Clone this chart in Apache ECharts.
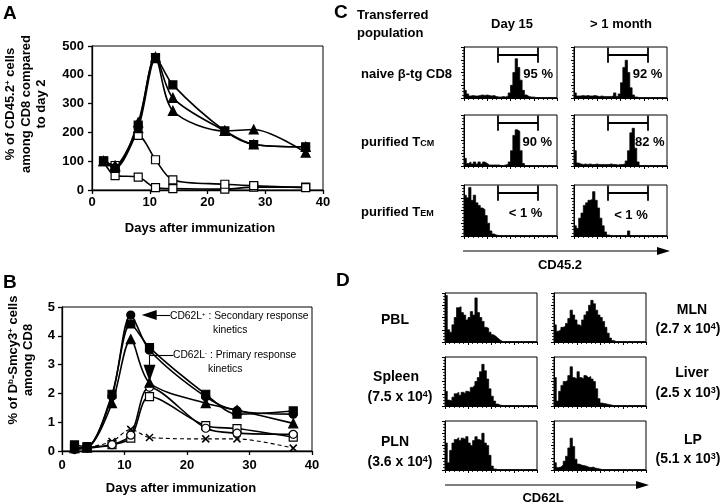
<!DOCTYPE html>
<html><head><meta charset="utf-8">
<script src="https://cdn.jsdelivr.net/npm/echarts@6/dist/echarts.min.js"></script>
<style>html,body{margin:0;padding:0;background:#fff}#c{width:720px;height:503px}</style>
</head><body><div id="c"></div>
<script>
// ---------- Panel A data ----------
const daysA = [2, 4, 8, 11, 14, 23, 28, 37];
const aFilledSquare = [100, 75, 225, 460, 365, 205, 158, 150];
const aFilledTriA   = [100, 80, 235, 462, 320, 205, 158, 150];
const aFilledTriB   = [100, 85, 215, 458, 275, 205, 210, 130];
const aOpenSquareA  = [100, 85, 190, 105, 35, 20, 15, 8];
const aOpenSquareB  = [100, 50, 45, 8, 5, 3, 10, 10];
// ---------- Panel B data ----------
const daysB = [2, 4, 8, 11, 14, 23, 28, 37];
const bFilledCircle = [0.10, 0.12, 1.90, 4.72, 3.50, 1.88, 1.40, 1.28];
const bFilledSquare = [0.21, 0.15, 1.97, 4.41, 3.59, 1.97, 1.28, 1.39];
const bFilledTri    = [0.10, 0.12, 1.66, 3.88, 2.37, 1.66, 1.42, 0.96];
const bOpenCircle   = [0.05, 0.10, 0.22, 0.55, 2.21, 0.79, 0.62, 0.58];
const bOpenSquare   = [0.10, 0.12, 0.22, 0.45, 1.89, 0.88, 0.78, 0.48];
const bCross        = [0.05, 0.12, 0.33, 0.75, 0.47, 0.42, 0.42, 0.10];
// ---------- Panel C histograms (CD45.2, 40 bins, % of max height) ----------
const cNaiveD15 = [15,8,4,5,4,4,5,6,5,6,5,4,5,3,2,2,3,2,4,10,25,50,77,60,35,15,6,3,2,2,1,1,1,1,1,1,1,1,1,1];
const cNaiveM1  = [10,4,4,5,4,5,4,4,5,4,3,4,3,3,3,3,4,10,3,8,30,60,74,50,20,6,2,1,1,1,1,1,1,1,1,1,1,1,1,1];
const cTcmD15   = [15,5,8,4,8,4,8,4,8,5,2,2,2,2,2,1,1,2,3,8,30,60,71,68,30,5,1,1,1,1,1,1,1,1,1,1,1,1,1,1];
const cTcmM1    = [30,6,4,3,4,3,4,3,3,4,3,3,3,3,3,4,3,3,2,3,3,4,10,30,65,74,35,8,1,1,1,1,1,1,1,1,1,1,1,1];
const cTemD15   = [80,75,95,70,80,65,60,55,52,40,25,10,4,2,1,1,1,1,1,1,1,1,1,1,1,1,1,1,1,1,1,1,1,1,1,1,1,1,1,1];
const cTemM1    = [20,15,35,45,60,65,70,72,87,70,55,35,20,8,2,1,1,1,1,1,1,1,1,10,1,1,1,1,1,1,1,1,1,1,1,1,1,1,1,1];
const cPercent  = ['95 %', '92 %', '90 %', '82 %', '< 1 %', '< 1 %'];
const cGate     = [14.6, 31.8];
// ---------- Panel D histograms (CD62L, 40 bins) ----------
const dPBL    = [95,25,20,35,50,70,72,60,55,45,50,62,55,90,60,50,42,30,28,20,15,12,8,4,1,1,1,1,1,1,1,1,1,1,1,1,1,1,1,1];
const dSpleen = [30,12,10,18,25,28,22,28,25,30,28,38,42,50,58,70,85,72,55,35,20,10,4,2,1,1,1,1,1,1,1,1,1,1,1,1,1,1,1,1];
const dPLN    = [55,15,40,55,62,66,60,65,62,68,55,50,60,68,62,60,75,55,50,30,8,2,1,1,1,1,1,1,1,1,1,1,1,1,1,1,1,1,1,1];
const dMLN    = [35,22,25,30,32,38,48,65,55,45,35,32,45,55,62,75,85,78,65,55,50,42,30,18,8,3,1,1,1,1,1,1,1,1,1,1,1,1,1,1];
const dLiver  = [58,10,30,42,50,52,62,80,58,55,70,58,55,62,58,60,55,50,35,15,6,5,4,3,2,1,1,1,1,1,1,1,1,1,1,1,1,1,1,1];
const dLP     = [15,5,6,10,18,28,45,65,48,22,12,10,9,8,6,5,6,4,3,2,1,1,1,1,1,1,1,1,1,1,1,1,1,1,1,1,1,1,1,1];

const FF = "'Liberation Sans', Arial, Helvetica, sans-serif";
const grids = [], xAxes = [], yAxes = [], series = [];
function addGrid(g, xa, ya) {
  grids.push(Object.assign({show: true, borderColor: '#000', borderWidth: 1, backgroundColor: 'rgba(0,0,0,0)', containLabel: false, outerBoundsMode: 'none'}, g));
  const gi = grids.length - 1;
  xAxes.push(Object.assign({gridIndex: gi}, xa));
  yAxes.push(Object.assign({gridIndex: gi}, ya));
  return gi;
}
function mainAxis(min, max, interval, margin) {
  return {type: 'value', min, max, interval,
    axisLine: {show: true, onZero: false, lineStyle: {color: '#000', width: 1.3}},
    axisTick: {show: true, length: 4, lineStyle: {color: '#000', width: 1.3}},
    axisLabel: {show: true, margin, color: '#000', fontFamily: FF, fontWeight: 'bold', fontSize: 13},
    splitLine: {show: false}};
}
function histAxis(max, interval, minor) {
  return {type: 'value', min: 0, max, interval,
    axisLine: {show: true, onZero: false, lineStyle: {color: '#000', width: 1}},
    axisTick: {show: true, length: 3, lineStyle: {color: '#000', width: 1}},
    minorTick: {show: true, splitNumber: minor, length: 2, lineStyle: {color: '#000', width: 0.8}},
    axisLabel: {show: false}, splitLine: {show: false}, minorSplitLine: {show: false}};
}
function kin(gi, days, vals, sym, filled, extra) {
  return Object.assign({type: 'line', xAxisIndex: gi, yAxisIndex: gi,
    data: days.map((d, i) => [d, vals[i]]), smooth: 0.3, symbol: sym, symbolSize: 8,
    lineStyle: {color: '#000', width: 1.6},
    itemStyle: {color: filled ? '#000' : '#fff', borderColor: '#000', borderWidth: 1.2},
    z: 3, silent: true}, extra || {});
}

// Panel A
const gA = addGrid({left: 92, top: 46, width: 231, height: 144}, mainAxis(0, 40, 10, 6), mainAxis(0, 500, 100, 8));
series.push(kin(gA, daysA, aOpenSquareB, 'rect', false));
series.push(kin(gA, daysA, aOpenSquareA, 'rect', false));
series.push(kin(gA, daysA, aFilledTriB, 'triangle', true, {symbolSize: 9}));
series.push(kin(gA, daysA, aFilledTriA, 'triangle', true, {symbolSize: 9}));
series.push(kin(gA, daysA, aFilledSquare, 'rect', true));

// Panel B
const gB = addGrid({left: 62, top: 307, width: 250, height: 144}, mainAxis(0, 40, 10, 8), mainAxis(0, 5, 1, 7));
series.push(kin(gB, daysB, bCross, 'path://M0 0L10 10M10 0L0 10', true,
  {lineStyle: {color: '#000', width: 1.1, type: [4, 3]}, itemStyle: {color: '#000', borderColor: '#000', borderWidth: 1.5}, symbolSize: 7}));
series.push(kin(gB, daysB, bOpenSquare, 'rect', false));
series.push(kin(gB, daysB, bOpenCircle, 'circle', false));
series.push(kin(gB, daysB, bFilledTri, 'triangle', true, {symbolSize: 9}));
series.push(kin(gB, daysB, bFilledSquare, 'rect', true));
series.push(kin(gB, daysB, bFilledCircle, 'circle', true, {
  markLine: {silent: true, animation: false, symbol: 'none', label: {show: false},
    lineStyle: {color: '#000', width: 1.1, type: 'solid'},
    data: [
      [{coord: [17.3, 4.72], symbol: 'none'}, {coord: [13.95, 4.72], symbol: 'triangle', symbolSize: [10, 15]}],
      [{coord: [17.8, 3.33], symbol: 'none'}, {coord: [14.0, 3.33], symbol: 'none'}],
      [{coord: [14.0, 3.33], symbol: 'none'}, {coord: [14.0, 2.70], symbol: 'triangle', symbolSize: [12, 17]}]
    ]}
}));

// Histograms
function hist(gi, arr, extra) {
  const data = arr.map((v, i) => [i, v]);
  data.push([arr.length, arr[arr.length - 1]]);
  series.push(Object.assign({type: 'line', xAxisIndex: gi, yAxisIndex: gi, data, step: 'end', symbol: 'none',
    lineStyle: {color: '#000', width: 0.7}, areaStyle: {color: '#000', opacity: 1}, silent: true}, extra || {}));
}
const cCols = [464, 574], cRows = [47, 115, 185];
const cHists = [cNaiveD15, cNaiveM1, cTcmD15, cTcmM1, cTemD15, cTemM1];
const cLabelAt = [[31.9, 47], [31.6, 47], [31.5, 47], [32.6, 47], [26.5, 45], [24.5, 41]];
cHists.forEach((arr, k) => {
  const col = k % 2, row = Math.floor(k / 2);
  const gi = addGrid({left: cCols[col], top: cRows[row], width: 93, height: 51}, histAxis(40, 10, 5), histAxis(100, 25, 4));
  hist(gi, arr, {
    markLine: {silent: true, animation: false, symbol: 'none', label: {show: false},
      lineStyle: {color: '#000', width: 1.8, type: 'solid'},
      data: [
        [{coord: [cGate[0], 84]}, {coord: [cGate[1], 84]}],
        [{coord: [cGate[0], 69]}, {coord: [cGate[0], 99]}],
        [{coord: [cGate[1], 69]}, {coord: [cGate[1], 99]}]
      ]},
    markPoint: {silent: true, animation: false, symbol: 'rect', symbolSize: 1, itemStyle: {color: 'rgba(0,0,0,0)'},
      label: {show: true, position: 'inside', formatter: cPercent[k], color: '#000', fontFamily: FF, fontWeight: 'bold', fontSize: 13},
      data: [{coord: cLabelAt[k]}]}
  });
});
const dCols = [445, 554], dRows = [293, 357, 421];
const dHists = [dPBL, dMLN, dSpleen, dLiver, dPLN, dLP];
dHists.forEach((arr, k) => {
  const col = k % 2, row = Math.floor(k / 2);
  const gi = addGrid({left: dCols[col], top: dRows[row], width: 92, height: 49}, histAxis(40, 10, 5), histAxis(100, 25, 4));
  hist(gi, arr);
});

// Text / decorations
function T(text, x, y, o) {
  o = o || {};
  return {type: 'text', x, y, rotation: o.rot || 0, silent: true, z: 10,
    style: {text, fill: '#000', fontFamily: FF, fontWeight: o.w || 'bold', fontSize: o.s || 13,
      align: o.a || 'left', verticalAlign: 'middle', rich: o.rich}};
}
const supRich = (s, w) => ({n: {fontFamily: FF, fontSize: s, fontWeight: w, fill: '#000'},
  sup: {fontFamily: FF, fontSize: Math.round(s * 0.62), fontWeight: w, fill: '#000', verticalAlign: 'top'},
  sub: {fontFamily: FF, fontSize: Math.round(s * 0.7), fontWeight: w, fill: '#000', verticalAlign: 'bottom'}});
const R90 = Math.PI / 2;
const graphic = [
  T('A', 3, 14, {s: 19}), T('B', 3, 283, {s: 19}), T('C', 334, 13, {s: 19}), T('D', 336, 281, {s: 19}),
  // A axis titles
  T('{n|% of CD45.2}{sup|+}{n| cells}', 10, 104, {rot: R90, a: 'center', rich: supRich(13, 'bold')}),
  T('among CD8 compared', 26, 104, {rot: R90, a: 'center'}),
  T('to day 2', 41, 104, {rot: R90, a: 'center'}),
  T('Days after immunization', 200, 228, {a: 'center'}),
  // B axis titles
  T('{n|% of D}{sup|b}{n|-Smcy3}{sup|+}{n| cells}', 13, 360, {rot: R90, a: 'center', rich: supRich(13, 'bold')}),
  T('among CD8', 28, 360, {rot: R90, a: 'center'}),
  T('Days after immunization', 181, 488, {a: 'center'}),
  // B annotations
  T('{n|CD62L}{sup|+}{n| : Secondary response}', 170, 316, {w: 'normal', rich: supRich(10.3, 'normal')}),
  T('kinetics', 213, 330, {w: 'normal', s: 10.3}),
  T('{n|CD62L}{sup|-}{n| : Primary response}', 173, 355, {w: 'normal', rich: supRich(10.3, 'normal')}),
  T('kinetics', 208, 369, {w: 'normal', s: 10.3}),
  // C labels
  T('Transferred', 357, 15), T('population', 357, 33),
  T('Day 15', 512, 24, {a: 'center'}), T('> 1 month', 621, 24, {a: 'center'}),
  T('naive β-tg CD8', 361, 74),
  T('{n|purified T}{sub|CM}', 361, 142, {rich: supRich(13, 'bold')}),
  T('{n|purified T}{sub|EM}', 361, 212, {rich: supRich(13, 'bold')}),
  T('CD45.2', 560, 265, {a: 'center'}),
  {type: 'line', silent: true, shape: {x1: 463, y1: 251, x2: 660, y2: 251}, style: {stroke: '#000', lineWidth: 1.2}},
  {type: 'polygon', silent: true, shape: {points: [[670, 251], [657, 247], [657, 255]]}, style: {fill: '#000'}},
  // D labels
  T('PBL', 395, 320, {a: 'center', s: 14}),
  T('Spleen', 396, 377, {a: 'center', s: 14}),
  T('{n|(7.5 x 10}{sup|4}{n|)}', 400, 397, {a: 'center', rich: supRich(14, 'bold')}),
  T('PLN', 395, 442, {a: 'center', s: 14}),
  T('{n|(3.6 x 10}{sup|4}{n|)}', 400, 462, {a: 'center', rich: supRich(14, 'bold')}),
  T('MLN', 692, 310, {a: 'center', s: 14}),
  T('{n|(2.7 x 10}{sup|4}{n|)}', 688, 329, {a: 'center', rich: supRich(14, 'bold')}),
  T('Liver', 692, 373, {a: 'center', s: 14}),
  T('{n|(2.5 x 10}{sup|3}{n|)}', 688, 393, {a: 'center', rich: supRich(14, 'bold')}),
  T('LP', 693, 440, {a: 'center', s: 14}),
  T('{n|(5.1 x 10}{sup|3}{n|)}', 688, 459, {a: 'center', rich: supRich(14, 'bold')}),
  T('CD62L', 543, 498, {a: 'center'}),
  {type: 'line', silent: true, shape: {x1: 445, y1: 485, x2: 638, y2: 485}, style: {stroke: '#000', lineWidth: 1.2}},
  {type: 'polygon', silent: true, shape: {points: [[649, 485], [636, 481], [636, 489]]}, style: {fill: '#000'}}
];

const chart = echarts.init(document.getElementById('c'), null, {renderer: 'canvas'});
chart.setOption({
  animation: false, backgroundColor: '#fff',
  grid: grids, xAxis: xAxes, yAxis: yAxes, series, graphic
});
</script></body></html>
